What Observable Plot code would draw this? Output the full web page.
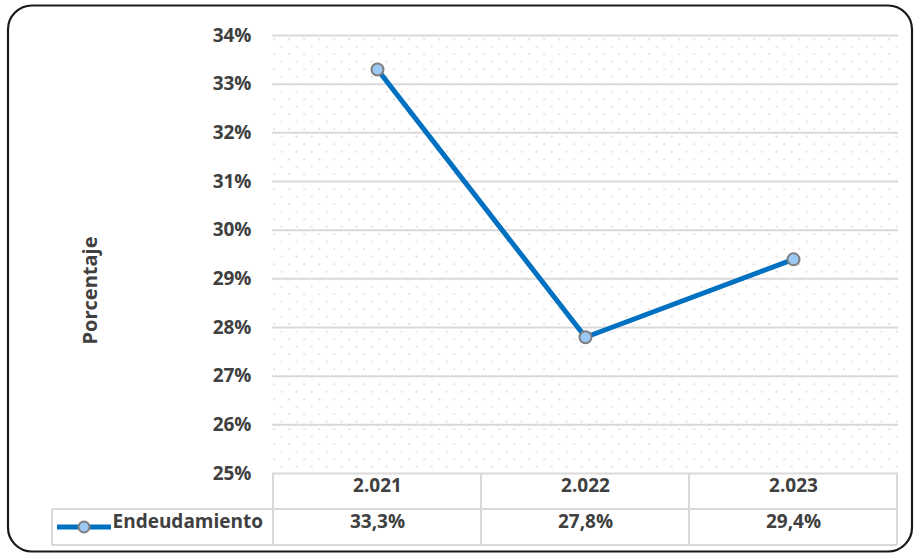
<!DOCTYPE html>
<html><head><meta charset="utf-8">
<script src="https://cdn.jsdelivr.net/npm/d3@7"></script>
<script src="https://cdn.jsdelivr.net/npm/@observablehq/plot@0.6"></script>
<style>html,body{margin:0;padding:0;background:#fff} svg{display:block}</style>
</head><body><div id="chart"></div>
<script>
const years = ["2.021", "2.022", "2.023"];
const endeudamiento = [0.333, 0.278, 0.294];
const valueLabels = ["33,3%", "27,8%", "29,4%"];
const yTicks = [0.25, 0.26, 0.27, 0.28, 0.29, 0.30, 0.31, 0.32, 0.33, 0.34];
const seriesName = "Endeudamiento";
const yLabel = "Porcentaje";

const data = years.map((y, i) => ({year: y, value: endeudamiento[i], label: valueLabels[i]}));
const font = "'Open Sans', sans-serif";
const textColor = "#404040";
const lineColor = "#0070C0";
const markerFill = "#9CC8F5";
const markerStroke = "#7F7F7F";
const tableColor = "#D9D9D9";
const fs = 19;

const plot = Plot.plot({
  width: 915, height: 554,
  marginLeft: 272, marginRight: 17, marginTop: 35, marginBottom: 81,
  style: {fontFamily: font, background: "#fff", overflow: "visible"},
  x: {type: "band", domain: years, padding: 0, axis: null},
  y: {domain: [0.25, 0.34], axis: null},
  marks: [
    Plot.frame({fill: "url(#dotPattern)", stroke: "none"}),
    Plot.gridY(yTicks, {stroke: tableColor, strokeWidth: 2, strokeOpacity: 1}),
    Plot.axisY(yTicks, {tickSize: 0, tickPadding: 21, tickFormat: d => Math.round(d * 100) + "%",
      fontSize: fs, fontWeight: "bold", fill: textColor, label: null}),
    Plot.line(data, {x: "year", y: "value", stroke: lineColor, strokeWidth: 5}),
    Plot.dot(data, {x: "year", y: "value", r: 6, fill: markerFill, stroke: markerStroke, strokeWidth: 2}),
    Plot.text(data, {x: "year", text: "year", frameAnchor: "bottom", dy: 18,
      fontSize: fs, fontWeight: "bold", fill: textColor}),
    Plot.text(data, {x: "year", text: "label", frameAnchor: "bottom", dy: 54,
      fontSize: fs, fontWeight: "bold", fill: textColor}),
    Plot.text([seriesName], {text: d => d, frameAnchor: "bottom-left", dx: -160, dy: 54, textAnchor: "start",
      fontSize: fs, fontWeight: "bold", fill: textColor}),
    Plot.text([yLabel], {text: d => d, frameAnchor: "left", rotate: -90, textAnchor: "middle", dx: -182, dy: 36,
      fontSize: 20, fontWeight: "bold", fill: textColor})
  ]
});

const svg = d3.select(plot);
// dotted pattern
const defs = svg.insert("defs", ":first-child");
const pat = defs.append("pattern").attr("id", "dotPattern").attr("patternUnits", "userSpaceOnUse")
  .attr("x", 272).attr("y", 35).attr("width", 15).attr("height", 15);
pat.append("rect").attr("width", 15).attr("height", 15).attr("fill", "#fff");
pat.append("rect").attr("x", 1).attr("y", 3).attr("width", 1.3).attr("height", 1.3).attr("fill", "#bdbdbd");
pat.append("rect").attr("x", 8.5).attr("y", 10.5).attr("width", 1.3).attr("height", 1.3).attr("fill", "#bdbdbd");

// data table lines from scales
const xs = plot.scale("x");
const ys = plot.scale("y");
const bw = xs.bandwidth;
const edges = years.map(d => xs.apply(d)).concat([xs.apply(years[years.length - 1]) + bw]);
const tableTop = ys.apply(0.25);
const rowH = 36;
const legendLeft = 52;
const g = svg.append("g").attr("stroke", tableColor).attr("stroke-width", 2).attr("fill", "none");
g.append("line").attr("x1", legendLeft).attr("x2", edges[edges.length - 1]).attr("y1", tableTop + rowH).attr("y2", tableTop + rowH);
g.append("line").attr("x1", legendLeft).attr("x2", edges[edges.length - 1]).attr("y1", tableTop + 2 * rowH).attr("y2", tableTop + 2 * rowH);
edges.forEach(e => g.append("line").attr("x1", e).attr("x2", e).attr("y1", tableTop).attr("y2", tableTop + 2 * rowH));
g.append("line").attr("x1", legendLeft).attr("x2", legendLeft).attr("y1", tableTop + rowH).attr("y2", tableTop + 2 * rowH);

// legend swatch
const ly = tableTop + rowH * 1.5;
svg.append("line").attr("x1", 57).attr("x2", 111).attr("y1", ly).attr("y2", ly)
  .attr("stroke", lineColor).attr("stroke-width", 5);
svg.append("circle").attr("cx", 84).attr("cy", ly).attr("r", 5.5)
  .attr("fill", markerFill).attr("stroke", markerStroke).attr("stroke-width", 2);

// chart border
svg.append("rect").attr("x", 8).attr("y", 5.5).attr("width", 904).attr("height", 546).attr("rx", 24)
  .attr("fill", "none").attr("stroke", "#1a1a1a").attr("stroke-width", 2.2);

document.getElementById("chart").appendChild(plot);
</script>
</body></html>
